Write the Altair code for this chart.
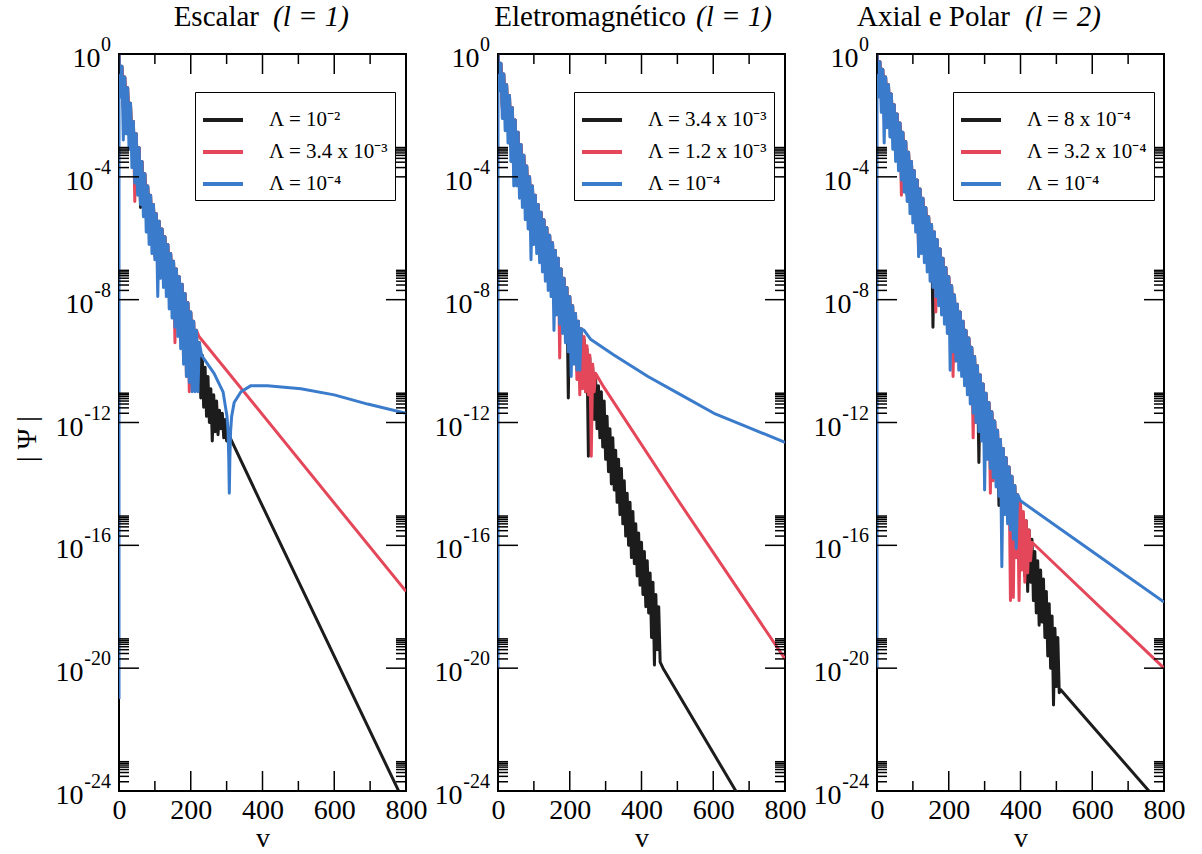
import altair as alt
import pandas as pd

# ---------------- axis / tick values ----------------
X_MAJOR = [0, 200, 400, 600, 800]
X_MINOR = [100, 300, 500, 700]
Y_MAJOR_EXP = [0, -4, -8, -12, -16, -20, -24]
MINOR_MULT = [2, 3, 4, 5, 6, 7, 8, 9]

TITLES = [("Escalar", "(l = 1)"), ("Eletromagnético", "(l = 1)"), ("Axial e Polar", "(l = 2)")]
TITLE_POS = [(140, 154), (188, 198), (133, 148)]
LEGENDS = [
    ["Λ = 10⁻²", "Λ = 3.4 x 10⁻³", "Λ = 10⁻⁴"],
    ["Λ = 3.4 x 10⁻³", "Λ = 1.2 x 10⁻³", "Λ = 10⁻⁴"],
    ["Λ = 8 x 10⁻⁴", "Λ = 3.2 x 10⁻⁴", "Λ = 10⁻⁴"],
]
COLORS = ["#1c1c1c", "#e5475a", "#3a7bcb"]

# ---------------- data: log10|Psi| ----------------
# oscillating band: upper points at v = 0, 8, 16, ...; lower points at v = 4, 12, 20, ...
# ---- Panel 1 : Escalar ----
P1_HI = [0, -0.4, -0.75, -1.1, -1.6, -2.2, -2.6, -3.05, -3.5, -3.9, -4.3, -4.6, -4.9, -5.2, -5.45,
         -5.7, -5.95, -6.2, -6.5, -6.75, -7.0, -7.25, -7.5, -7.8, -8.1, -8.4, -8.7, -9.0, -9.4]
P1_BLACK_HI_EXTRA = [-9.8, -10.2, -10.5, -10.9, -11.1, -11.3, -11.6, -11.7, -11.9]
P1_BLACK_LO = [-1.0, -1.8, -2.0, -2.5, -3.0, -3.6, -4.0, -5.0, -4.9, -5.0, -5.4, -5.9, -6.0, -6.4, -6.6,
               -6.9, -7.1, -7.4, -7.7, -8.0, -8.3, -8.6, -8.9, -9.3, -9.7, -10.0, -10.3, -10.8, -11.2,
               -11.5, -11.8, -12.0, -12.6, -12.3, -12.4, -12.2, -12.5, -12.6]
P1_BLACK_TAIL_V = [306, 395, 800]
P1_BLACK_TAIL_E = [-12.4, -14.6, -24.5]
P1_RED_LO = [-1.0, -1.7, -2.1, -2.6, -3.1, -4.8, -4.0, -4.4, -4.8, -5.2, -5.5, -5.9, -6.6, -6.5, -6.8,
             -7.1, -7.3, -7.6, -7.9, -9.4, -8.5, -8.8, -10.0, -10.5, -11.0, -10.8, -10.4]
P1_RED_TAIL_V = [216, 223, 800]
P1_RED_TAIL_E = [-9.0, -9.2, -17.5]
P1_BLUE_LO = [-1.4, -2.8, -2.6, -3.1, -3.7, -4.2, -4.6, -4.9, -5.3, -5.8, -6.2, -6.5, -6.7, -7.9, -7.3,
              -7.6, -7.9, -8.3, -8.6, -8.9, -9.2, -9.6, -10.1, -10.5, -10.7, -11.0, -11.0, -11.0]
P1_BLUE_TAIL_V = [230, 237, 265, 290, 301, 304, 306, 307.5, 309, 311, 314, 321, 340, 368, 414, 507, 600, 693, 800]
P1_BLUE_TAIL_E = [-9.8, -9.93, -10.4, -11.0, -11.8, -12.3, -13.2, -14.3, -13.2, -12.3, -11.8, -11.35, -11.0,
                  -10.8, -10.8, -10.9, -11.1, -11.4, -11.7]

# ---- Panel 2 : Eletromagnético ----
P2_HI = [0, -0.3, -0.65, -1.0, -1.35, -1.75, -2.15, -2.55, -2.95, -3.3, -3.65, -4.0, -4.3, -4.6, -4.9,
         -5.15, -5.4, -5.65, -5.9, -6.15, -6.4, -6.65, -7.0, -7.3, -7.6, -7.9, -8.2, -8.45, -8.7, -8.95]
P2_BLUE_LO = [-1.2, -2.1, -2.5, -2.9, -3.5, -4.3, -4.3, -4.7, -5.0, -5.4, -5.7, -6.7, -6.2, -6.5, -6.8,
              -7.1, -7.4, -7.7, -7.9, -9.0, -8.5, -8.8, -9.1, -9.4, -9.7, -10.5, -10.1, -10.3, -10.3]
P2_BLUE_TAIL_V = [240, 259, 323, 418, 510, 602, 696, 800]
P2_BLUE_TAIL_E = [-9.0, -9.3, -9.8, -10.5, -11.1, -11.7, -12.15, -12.65]
P2_RED_HI_EXTRA = [-9.2, -9.5, -9.8, -10.1]
P2_RED_LO = [-1.0, -1.8, -2.1, -2.5, -3.0, -3.6, -3.8, -4.2, -4.6, -5.0, -5.3, -5.7, -5.8, -6.1, -6.4,
             -6.7, -7.0, -7.3, -7.5, -7.8, -8.1, -9.9, -8.7, -9.0, -9.3, -9.6, -9.9, -10.6, -11.1, -10.9,
             -11.0, -11.1, -13.1, -11.0]
P2_RED_TAIL_V = [272, 295, 500, 800]
P2_RED_TAIL_E = [-10.4, -10.85, -14.5, -19.7]
P2_BLACK_HI_EXTRA = [-9.3, -9.6, -9.9, -10.2, -10.5, -10.8, -11.0, -11.3, -11.8, -12.2, -12.5, -12.9, -13.2,
                     -13.5, -13.9, -14.3, -14.6, -14.9, -15.3, -15.6, -15.9, -16.2, -16.5, -16.9, -17.2,
                     -17.6, -18.0]
P2_BLACK_LO = [-1.0, -1.7, -2.0, -2.4, -2.9, -3.4, -3.7, -4.1, -4.5, -4.9, -5.1, -5.5, -5.7, -6.0, -6.3,
               -6.6, -6.9, -7.2, -7.4, -7.7, -8.0, -8.3, -8.6, -8.9, -11.2, -9.5, -9.8, -10.0, -10.3,
               -10.6, -11.0, -13.1, -11.6, -11.9, -12.2, -12.5, -12.8, -13.2, -13.6, -14.0, -14.2, -14.6,
               -15.0, -15.3, -15.7, -16.0, -16.4, -16.6, -17.0, -17.3, -17.6, -18.0, -18.2, -19.0, -19.9,
               -19.4, -19.8]
P2_BLACK_TAIL_V = [460, 663, 800]
P2_BLACK_TAIL_E = [-20.0, -24.0, -26.7]

# ---- Panel 3 : Axial e Polar ----
P3_HI = [0, -0.25, -0.5, -0.75, -1.0, -1.3, -1.65, -1.95, -2.25, -2.55, -2.85, -3.2, -3.5, -3.8, -4.1,
         -4.4, -4.7, -5.0, -5.3, -5.55, -5.8, -6.05, -6.35, -6.65, -6.95, -7.25, -7.55, -7.85, -8.15,
         -8.4, -8.7, -9.0, -9.25, -9.55, -9.85, -10.15, -10.45, -10.75, -11.05, -11.35, -11.65, -11.95,
         -12.25, -12.55, -12.85, -13.15, -13.45, -13.75, -14.05, -14.35]
P3_BLUE_LO = [-1.4, -1.9, -2.9, -2.4, -2.7, -3.1, -3.5, -3.8, -4.1, -4.5, -4.8, -5.2, -5.5, -5.8, -6.6,
              -6.5, -6.8, -7.1, -7.4, -7.6, -7.9, -8.2, -8.5, -8.8, -9.1, -10.3, -9.7, -10.0, -10.3, -10.5,
              -10.8, -11.1, -11.4, -11.7, -12.0, -12.3, -12.6, -14.2, -13.2, -13.5, -13.8, -14.1, -14.4,
              -16.7, -15.0, -15.3, -15.5, -15.8, -16.1]
P3_BLUE_TAIL_V = [400, 600, 800]
P3_BLUE_TAIL_E = [-14.55, -16.2, -17.85]
P3_RED_HI_EXTRA = [-14.6, -14.9, -15.2, -15.5]
P3_RED_LO = [-1.0, -1.5, -1.8, -2.0, -2.3, -2.7, -3.0, -3.3, -4.6, -4.0, -4.3, -4.6, -4.9, -5.2, -6.5,
             -6.4, -6.2, -6.5, -6.7, -7.0, -8.4, -7.8, -8.3, -8.1, -8.4, -8.7, -10.5, -10.0, -9.6, -9.8,
             -10.1, -10.4, -10.7, -12.5, -12.0, -11.6, -11.9, -12.2, -12.5, -14.3, -13.9, -13.6, -13.7,
             -14.0, -14.3, -14.6, -17.8, -17.7, -16.4, -17.8, -16.8, -17.2, -16.9, -16.5]
P3_RED_TAIL_V = [432, 800]
P3_RED_TAIL_E = [-15.9, -20.0]
P3_BLACK_HI_EXTRA = [-14.7, -15.0, -15.2, -15.5, -15.8, -16.2, -16.5, -16.8, -17.1, -17.5, -17.9, -18.3,
                     -18.7, -19.0]
P3_BLACK_LO = [-0.9, -1.4, -1.7, -1.9, -2.2, -2.6, -2.9, -3.2, -3.6, -4.0, -4.6, -4.5, -4.8, -5.1, -5.4,
               -5.7, -6.0, -6.3, -6.6, -8.9, -7.2, -7.4, -7.7, -8.0, -8.3, -8.6, -8.9, -9.2, -9.5, -9.8,
               -10.0, -10.3, -10.6, -10.9, -11.2, -13.3, -11.8, -12.1, -12.4, -12.7, -13.0, -13.3, -14.7,
               -13.9, -14.2, -14.5, -14.8, -15.1, -15.4, -15.7,
               -16.5, -17.0, -17.5, -17.2, -17.8, -18.2, -18.6, -18.5, -19.0, -19.6, -20.0, -21.2, -20.6,
               -20.8]
P3_BLACK_TAIL_V = [512, 758, 800]
P3_BLACK_TAIL_E = [-20.7, -24.0, -24.6]

START_E = [-21.0, -20.0, -20.0]  # blue value at v = 0 (vertical line along the left axis)


def build(hi, lo, tail_v, tail_e, start=None):
    hi_v = list(range(0, 8 * len(hi), 8))
    lo_v = list(range(4, 8 * len(lo) + 4, 8))
    vs, es = [], []
    if start is not None:
        vs.append(0)
        es.append(start)
    for i, h in enumerate(hi):
        vs.append(hi_v[i]); es.append(h)
        if i < len(lo):
            vs.append(lo_v[i]); es.append(lo[i])
    vs += tail_v
    es += tail_e
    return pd.DataFrame({"idx": range(len(vs)), "v": vs, "psi": [10.0 ** e for e in es]})


SERIES = [
    [build(P1_HI + P1_BLACK_HI_EXTRA, P1_BLACK_LO, P1_BLACK_TAIL_V, P1_BLACK_TAIL_E),
     build(P1_HI[:27], P1_RED_LO, P1_RED_TAIL_V, P1_RED_TAIL_E),
     build(P1_HI, P1_BLUE_LO, P1_BLUE_TAIL_V, P1_BLUE_TAIL_E, START_E[0])],
    [build(P2_HI + P2_BLACK_HI_EXTRA, P2_BLACK_LO, P2_BLACK_TAIL_V, P2_BLACK_TAIL_E),
     build(P2_HI + P2_RED_HI_EXTRA, P2_RED_LO, P2_RED_TAIL_V, P2_RED_TAIL_E),
     build(P2_HI, P2_BLUE_LO, P2_BLUE_TAIL_V, P2_BLUE_TAIL_E, START_E[1])],
    [build(P3_HI + P3_BLACK_HI_EXTRA, P3_BLACK_LO, P3_BLACK_TAIL_V, P3_BLACK_TAIL_E),
     build(P3_HI + P3_RED_HI_EXTRA, P3_RED_LO, P3_RED_TAIL_V, P3_RED_TAIL_E),
     build(P3_HI, P3_BLUE_LO, P3_BLUE_TAIL_V, P3_BLUE_TAIL_E, START_E[2])],
]

W, H = 287, 737
FONT = "Liberation Serif"
Y_MAJOR = [10.0 ** e for e in Y_MAJOR_EXP]
Y_MINOR = [m * 10.0 ** e for e in Y_MAJOR_EXP[1:] for m in MINOR_MULT]
# y tick labels: "10" + raised exponent, right-aligned as a whole
YLAB = pd.DataFrame({"psi": Y_MAJOR, "exp": [str(e) for e in Y_MAJOR_EXP],
                     "n": [len(str(e)) for e in Y_MAJOR_EXP]})
BASE_X = {1: -18.5, 2: -25.5, 3: -35.5}


def panel(p):
    xsc = alt.Scale(domain=[0, 800], nice=False, zero=False)
    ysc = alt.Scale(type="log", domain=[1e-24, 1], nice=False)
    xaxis = alt.Axis(values=X_MAJOR, ticks=False, domain=False, grid=False, labelFont=FONT,
                     labelFontSize=28, labelPadding=5, labelFlush=False, labelColor="black",
                     title="v", titleFont=FONT, titleFontSize=28, titleFontWeight="normal",
                     titlePadding=0, titleColor="black")
    color = alt.Scale(domain=LEGENDS[p], range=COLORS)
    legend = alt.Legend(title=None, orient="none", legendX=76, legendY=38, symbolType="stroke",
                        symbolSize=1600, symbolStrokeWidth=4, labelFont=FONT, labelFontSize=21,
                        labelColor="black", labelOffset=24, strokeColor="black", fillColor="white",
                        padding=6, rowPadding=-3, cornerRadius=0)
    layers = []
    for k in range(3):
        d = SERIES[p][k].copy()
        d["label"] = LEGENDS[p][k]
        layers.append(
            alt.Chart(d).mark_line(clip=True, strokeWidth=3, strokeJoin="round").encode(
                x=alt.X("v:Q", scale=xsc, axis=xaxis),
                y=alt.Y("psi:Q", scale=ysc, axis=None),
                color=alt.Color("label:N", scale=color, legend=legend),
                order=alt.Order("idx:Q"),
            )
        )

    def yticks(vals, x0, x1):
        return alt.Chart(pd.DataFrame({"psi": vals})).mark_rule(color="black", strokeWidth=1.5).encode(
            y=alt.Y("psi:Q", scale=ysc, axis=None), x=alt.value(x0), x2=alt.value(x1))

    def xticks(vals, y0, y1):
        return alt.Chart(pd.DataFrame({"v": vals})).mark_rule(color="black", strokeWidth=1.5).encode(
            x=alt.X("v:Q", scale=xsc, axis=xaxis), y=alt.value(y0), y2=alt.value(y1))

    layers += [
        yticks(Y_MAJOR, 0, 20), yticks(Y_MAJOR, W - 20, W),
        yticks(Y_MINOR, 0, 10), yticks(Y_MINOR, W - 10, W),
        xticks(X_MAJOR, H - 20, H), xticks(X_MAJOR, 0, 20),
        xticks(X_MINOR, H - 10, H), xticks(X_MINOR, 0, 10),
    ]
    # y tick labels
    for n, bx in BASE_X.items():
        layers.append(alt.Chart(YLAB[YLAB.n == n]).mark_text(
            font=FONT, fontSize=28, align="right", baseline="middle", dy=5, color="black").encode(
            y=alt.Y("psi:Q", scale=ysc, axis=None), x=alt.value(bx), text=alt.value("10")))
    layers.append(alt.Chart(YLAB).mark_text(
        font=FONT, fontSize=20, align="right", baseline="middle", dy=-9, color="black").encode(
        y=alt.Y("psi:Q", scale=ysc, axis=None), x=alt.value(-8), text="exp:N"))
    if p == 0:
        layers.append(alt.Chart(pd.DataFrame({"t": ["| Ψ |"]})).mark_text(
            font=FONT, fontSize=28, angle=270, align="center", baseline="middle", color="black").encode(
            x=alt.value(-91), y=alt.value(385), text="t:N"))
    t1, t2 = TITLES[p]
    x1, x2 = TITLE_POS[p]
    layers.append(alt.Chart(pd.DataFrame({"t": [t1]})).mark_text(
        font=FONT, fontSize=29, align="right", baseline="middle", color="black").encode(
        x=alt.value(x1), y=alt.value(-37), text="t:N"))
    layers.append(alt.Chart(pd.DataFrame({"t": [t2]})).mark_text(
        font=FONT, fontSize=29, fontStyle="italic", align="left", baseline="middle", color="black").encode(
        x=alt.value(x2), y=alt.value(-37), text="t:N"))
    return alt.layer(*layers).properties(width=W, height=H)


chart = alt.hconcat(panel(0), panel(1), panel(2), spacing=92, bounds="flush").resolve_scale(
    color="independent").properties(
    padding={"left": 13, "top": 2, "right": 5, "bottom": 5}
).configure(font=FONT).configure_view(stroke="black", strokeWidth=2)

chart.save("out.html", embed_options={"renderer": "svg", "actions": False})
